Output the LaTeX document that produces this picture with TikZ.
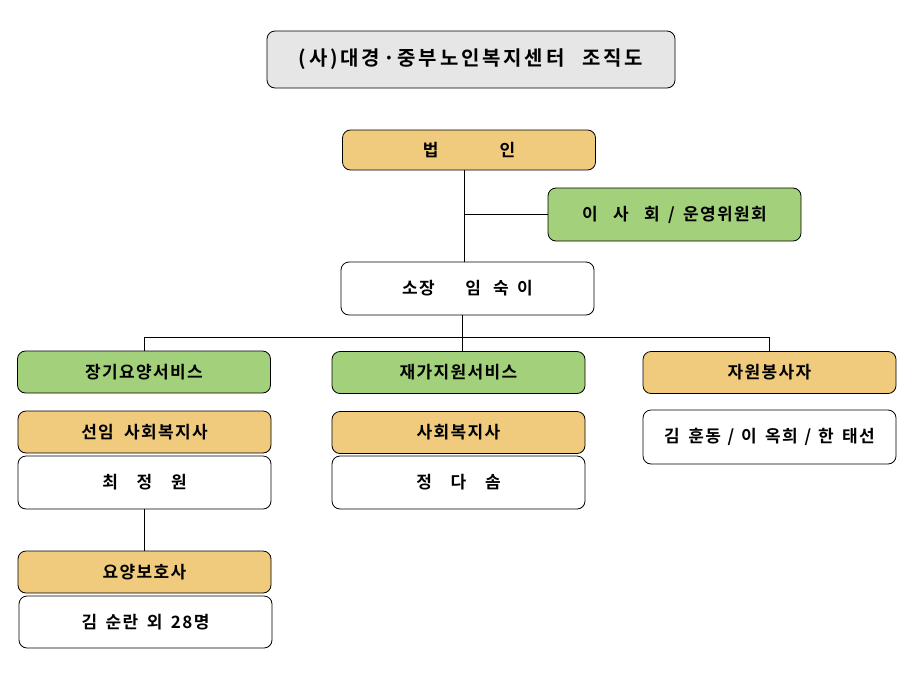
\documentclass[tikz,border=0pt]{standalone}
\usepackage{fontspec}
\setmainfont[LetterSpace=8]{Noto Sans CJK KR Bold}
\newfontfamily\titlefont[LetterSpace=14]{Noto Sans CJK KR Bold}
\definecolor{boxorange}{RGB}{240,203,126}
\definecolor{boxgreen}{RGB}{163,208,122}
\definecolor{boxgray}{RGB}{230,230,230}
\tikzset{
    box/.style={draw, rounded corners=8pt, line width=0.8pt, minimum width=253pt, inner sep=0pt, font=\fontsize{17}{20}\selectfont},
    orangebox/.style={box, fill=boxorange, minimum height=42pt},
    greenbox/.style={box, fill=boxgreen, minimum height=42pt},
    namebox/.style={box, fill=white, minimum height=53pt},
    link/.style={line width=0.6pt}
}

\begin{document}
\begin{tikzpicture}[x=1pt, y=-1pt]
        \useasboundingbox[fill=white] (0,0) rectangle (915,672);

        \node[box, fill=boxgray, minimum width=408pt, minimum height=57pt, font=\titlefont\fontsize{20}{24}\selectfont] (title) at (471,59.5) {(사)대경·중부노인복지센터\hspace{0.9em}조직도};

        \node[orangebox, minimum height=40pt] (corp) at (469,150) {법\hspace{3.6em}인};
        \node[greenbox, minimum height=53pt] (board) at (674.5,214.5) {이\hspace{0.9em}사\hspace{0.9em}회\hspace{0.5em}/\hspace{0.5em}운영위원회};
        \node[namebox] (director) at (467.5,288.5) {소장\hspace{1.8em}임\hspace{0.7em}숙\hspace{0.5em}이};

        \node[greenbox] (longterm) at (144,372) {장기요양서비스};
        \node[greenbox] (homecare) at (458.5,372.5) {재가지원서비스};
        \node[orangebox] (volunteer) at (769.5,372.5) {자원봉사자};

        \node[orangebox] (senior) at (144.5,432) {선임\hspace{0.6em}사회복지사};
        \node[namebox] (choi) at (144.5,482.5) {최\hspace{1.1em}정\hspace{1.1em}원};
        \node[orangebox] (carer) at (144.5,572) {요양보호사};
        \node[namebox, minimum height=52pt] (kim) at (145.5,622) {김\hspace{0.5em}순란\hspace{0.5em}외\hspace{0.5em}28명};

        \node[orangebox] (worker) at (458.5,432.5) {사회복지사};
        \node[namebox] (jeong) at (458.5,482.5) {정\hspace{1.1em}다\hspace{1.1em}솜};

        \node[namebox, minimum height=54pt] (members) at (769.5,437) {김\hspace{0.5em}훈동\hspace{0.4em}/\hspace{0.4em}이\hspace{0.5em}옥희\hspace{0.4em}/\hspace{0.4em}한\hspace{0.5em}태선};

        \coordinate (trunk) at ([xshift=-5pt]corp.south);
        \coordinate (bus) at (462,337);

        \draw[link] (trunk) -- (trunk |- director.north);
        \draw[link] (trunk |- board.west) -- (board.west);
        \draw[link] (bus |- director.south) -- (bus);
        \draw[link] (longterm.north) -- (longterm.north |- bus) -| (volunteer.north);
        \draw[link] (bus) -- (bus |- homecare.north);
        \draw[link] (choi.south) -- (carer.north);
    \end{tikzpicture}
\end{document}
